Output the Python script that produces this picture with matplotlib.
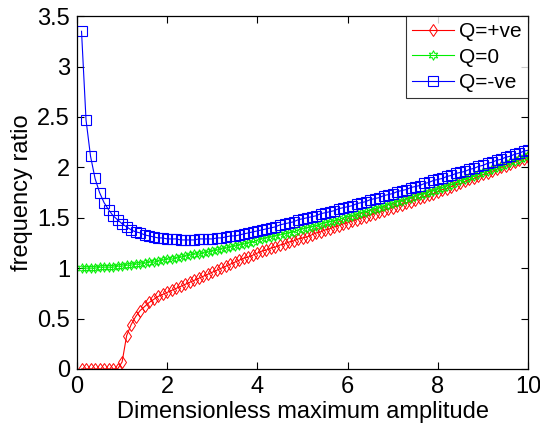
import numpy as np
import matplotlib
matplotlib.use('Agg')
import matplotlib.pyplot as plt

plt.rcParams['font.family'] = ['Liberation Sans', 'DejaVu Sans']

# amplitude grid 0.1 .. 10.0
amp = np.linspace(0.1, 10.0, 100)

q_pos = [0, 0, 0, 0, 0, 0, 0, 0, 0, 0.07,
         0.33, 0.44, 0.52, 0.58, 0.62, 0.66, 0.69, 0.72, 0.74, 0.76,
         0.78, 0.80, 0.82, 0.84, 0.86, 0.88, 0.90, 0.92, 0.94, 0.96,
         0.98, 1.00, 1.02, 1.04, 1.06, 1.08, 1.10, 1.11, 1.13, 1.15,
         1.17, 1.18, 1.20, 1.21, 1.23, 1.24, 1.26, 1.27, 1.29, 1.30,
         1.31, 1.33, 1.35, 1.36, 1.38, 1.39, 1.41, 1.42, 1.44, 1.45,
         1.47, 1.48, 1.50, 1.51, 1.53, 1.54, 1.56, 1.57, 1.59, 1.60,
         1.62, 1.63, 1.65, 1.66, 1.68, 1.70, 1.71, 1.73, 1.74, 1.76,
         1.78, 1.79, 1.81, 1.83, 1.84, 1.86, 1.88, 1.89, 1.91, 1.93,
         1.94, 1.96, 1.98, 2.00, 2.01, 2.03, 2.05, 2.07, 2.08, 2.10]

q_zero = [1.00, 1.00, 1.00, 1.00, 1.01, 1.01, 1.01, 1.01, 1.02, 1.02,
          1.03, 1.03, 1.04, 1.04, 1.05, 1.06, 1.06, 1.07, 1.08, 1.09,
          1.09, 1.10, 1.11, 1.12, 1.13, 1.14, 1.14, 1.15, 1.16, 1.17,
          1.18, 1.19, 1.20, 1.21, 1.22, 1.23, 1.24, 1.25, 1.26, 1.28,
          1.29, 1.30, 1.31, 1.32, 1.33, 1.34, 1.35, 1.36, 1.38, 1.39,
          1.40, 1.41, 1.42, 1.44, 1.45, 1.46, 1.47, 1.48, 1.50, 1.51,
          1.52, 1.54, 1.55, 1.56, 1.58, 1.59, 1.60, 1.62, 1.63, 1.65,
          1.66, 1.67, 1.69, 1.70, 1.72, 1.73, 1.74, 1.76, 1.77, 1.79,
          1.80, 1.82, 1.83, 1.85, 1.87, 1.88, 1.90, 1.91, 1.93, 1.95,
          1.96, 1.98, 2.00, 2.01, 2.03, 2.05, 2.06, 2.08, 2.10, 2.12]

q_neg = [3.35, 2.47, 2.11, 1.89, 1.75, 1.65, 1.58, 1.52, 1.48, 1.44,
         1.41, 1.38, 1.36, 1.35, 1.33, 1.32, 1.31, 1.30, 1.30, 1.29,
         1.29, 1.29, 1.28, 1.28, 1.28, 1.28, 1.29, 1.29, 1.29, 1.29,
         1.30, 1.30, 1.31, 1.32, 1.32, 1.33, 1.34, 1.35, 1.36, 1.37,
         1.38, 1.39, 1.40, 1.41, 1.43, 1.44, 1.45, 1.46, 1.48, 1.49,
         1.50, 1.51, 1.52, 1.54, 1.55, 1.56, 1.57, 1.59, 1.60, 1.61,
         1.62, 1.64, 1.65, 1.66, 1.68, 1.69, 1.70, 1.72, 1.73, 1.74,
         1.76, 1.77, 1.78, 1.80, 1.81, 1.82, 1.84, 1.85, 1.87, 1.88,
         1.89, 1.91, 1.92, 1.94, 1.95, 1.96, 1.98, 1.99, 2.01, 2.02,
         2.04, 2.05, 2.07, 2.08, 2.10, 2.11, 2.13, 2.14, 2.16, 2.17]

fig = plt.figure(figsize=(5.4, 4.25), dpi=100)
ax = fig.add_axes([0.1426, 0.1318, 0.8354, 0.8302])

hexagram = (6, 1, 0)
ax.plot(amp, q_pos, color='r', lw=0.8, marker='d', ms=6, mfc='none', mew=0.7, label='Q=+ve')
ax.plot(amp, q_zero, color='#00ee00', lw=0.8, marker=hexagram, ms=7, mfc='none', mew=0.7, label='Q=0')
ax.plot(amp, q_neg, color='b', lw=0.8, marker='s', ms=7, mfc='none', mew=0.8, label='Q=-ve')

ax.set_xlim(0, 10)
ax.set_ylim(0, 3.5)
ax.set_xticks([0, 2, 4, 6, 8, 10])
ax.set_yticks([0, 0.5, 1, 1.5, 2, 2.5, 3, 3.5])
ax.set_yticklabels(['0', '0.5', '1', '1.5', '2', '2.5', '3', '3.5'])
ax.tick_params(direction='in', top=True, right=True, labelsize=17, length=5, width=0.8, pad=5)
for s in ax.spines.values():
    s.set_linewidth(0.9)

ax.set_xlabel('Dimensionless maximum amplitude', fontsize=17, labelpad=2)
ax.set_ylabel('frequency ratio', fontsize=17, labelpad=3)

leg = ax.legend(loc='upper right', fontsize=15, fancybox=False, edgecolor='k',
                borderaxespad=0, handlelength=2.0, handletextpad=0.25,
                borderpad=0.3, labelspacing=0.3)
leg.get_frame().set_linewidth(0.8)

fig.savefig('out.png', dpi=100)
